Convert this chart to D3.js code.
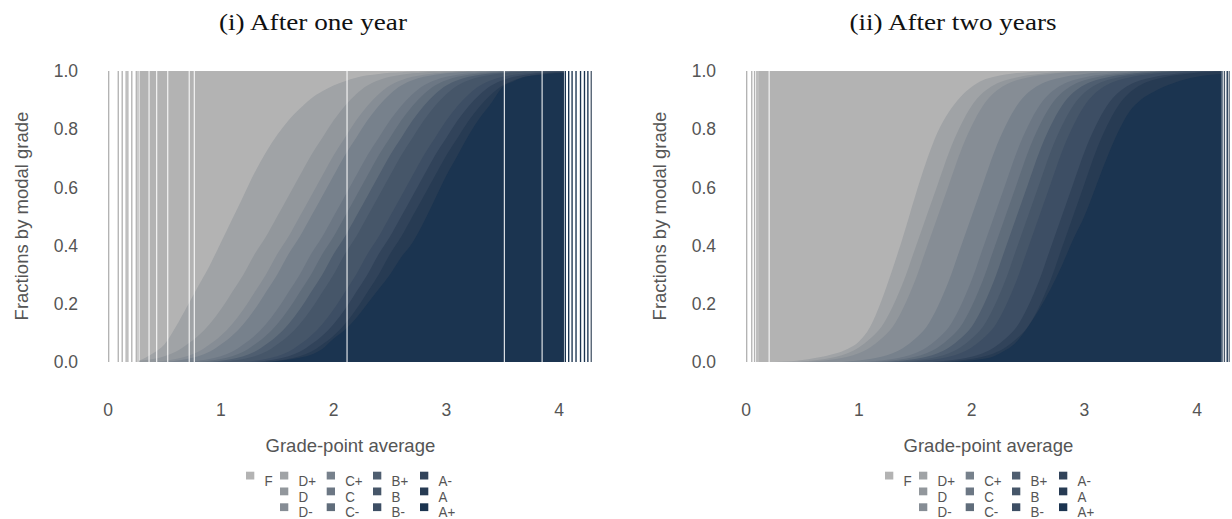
<!DOCTYPE html>
<html><head><meta charset="utf-8">
<script src="https://cdn.jsdelivr.net/npm/d3@7"></script>
<style>body{margin:0;background:#fff}svg{display:block}</style>
</head><body>
<svg id="chart" width="1232" height="519"></svg>
<script>
// ---------- data ----------
const grades = ["F","D+","D","D-","C+","C","C-","B+","B","B-","A-","A","A+"];
const gradeColors = ["#b3b3b3","#a0a3a6","#92979c","#868d95","#77818c","#6c7784","#606d7b","#4f5e70","#465669","#3d4e64","#31435a","#273b53","#1b3450"];
const yTicks = [0, 0.2, 0.4, 0.6, 0.8, 1.0];
const xTicks = [0, 1, 2, 3, 4];
const panelTitles = ["(i) After one year", "(ii) After two years"];
const legendColumns = [["F"], ["D+","D","D-"], ["C+","C","C-"], ["B+","B","B-"], ["A-","A","A+"]];

// Panel (i): GPA values and cumulative share of students whose modal grade is
// better than F, D+, D, ... , A (each row = one boundary between adjacent grades)
const gpaOne = [0.28,0.4,0.5,0.6,0.7,0.8,0.9,1.0,1.1,1.2,1.3,1.4,1.5,1.6,1.7,1.8,1.9,2.0,2.1,2.2,2.3,2.4,2.5,2.6,2.7,2.8,2.9,3.0,3.1,3.2,3.3,3.4,3.5,3.6,3.7,3.8,3.9,4.04];
const cumOne = [
 [0.005,0.03,0.06,0.12,0.19,0.26,0.33,0.41,0.49,0.57,0.65,0.72,0.78,0.83,0.87,0.905,0.93,0.95,0.965,0.977,0.985,0.99,0.994,0.996,0.998,0.999,1,1,1,1,1,1,1,1,1,1,1,1],
 [0.004,0.01,0.02,0.035,0.06,0.09,0.13,0.18,0.24,0.30,0.37,0.43,0.50,0.57,0.64,0.71,0.77,0.83,0.88,0.92,0.95,0.968,0.98,0.987,0.992,0.995,0.997,0.998,0.999,1,1,1,1,1,1,1,1,1],
 [0,0,0.004,0.01,0.02,0.035,0.06,0.09,0.13,0.18,0.24,0.30,0.37,0.43,0.50,0.57,0.64,0.71,0.77,0.83,0.88,0.92,0.95,0.968,0.98,0.987,0.992,0.995,0.997,0.998,0.999,1,1,1,1,1,1,1],
 [0,0,0,0.004,0.01,0.02,0.035,0.06,0.09,0.13,0.18,0.24,0.30,0.37,0.43,0.50,0.57,0.64,0.71,0.77,0.83,0.88,0.92,0.95,0.968,0.98,0.987,0.992,0.995,0.997,0.998,0.999,1,1,1,1,1,1],
 [0,0,0,0,0,0.004,0.01,0.02,0.035,0.06,0.09,0.13,0.18,0.24,0.30,0.37,0.43,0.50,0.57,0.64,0.71,0.77,0.83,0.88,0.92,0.95,0.968,0.98,0.987,0.992,0.995,0.997,0.998,0.999,1,1,1,1],
 [0,0,0,0,0,0,0.004,0.01,0.02,0.035,0.06,0.09,0.13,0.18,0.24,0.30,0.37,0.43,0.50,0.57,0.64,0.71,0.77,0.83,0.88,0.92,0.95,0.968,0.98,0.987,0.992,0.995,0.997,0.998,0.999,1,1,1],
 [0,0,0,0,0,0,0,0.004,0.01,0.02,0.035,0.06,0.09,0.13,0.18,0.24,0.30,0.37,0.43,0.50,0.57,0.64,0.71,0.77,0.83,0.88,0.92,0.95,0.968,0.98,0.987,0.992,0.995,0.997,0.998,0.999,1,1],
 [0,0,0,0,0,0,0,0,0.004,0.01,0.02,0.035,0.06,0.09,0.13,0.18,0.24,0.30,0.37,0.43,0.50,0.57,0.64,0.71,0.77,0.83,0.88,0.92,0.95,0.968,0.98,0.987,0.992,0.995,0.997,0.998,0.999,1],
 [0,0,0,0,0,0,0,0,0,0,0.004,0.01,0.02,0.035,0.06,0.09,0.13,0.18,0.24,0.30,0.37,0.43,0.50,0.57,0.64,0.71,0.77,0.83,0.88,0.92,0.95,0.968,0.98,0.987,0.992,0.995,0.997,0.998],
 [0,0,0,0,0,0,0,0,0,0,0,0.004,0.01,0.02,0.035,0.06,0.09,0.13,0.18,0.24,0.30,0.37,0.43,0.50,0.57,0.64,0.71,0.77,0.83,0.88,0.92,0.95,0.968,0.98,0.987,0.992,0.995,0.997],
 [0,0,0,0,0,0,0,0,0,0,0,0,0.004,0.01,0.02,0.035,0.06,0.09,0.13,0.18,0.24,0.30,0.37,0.43,0.50,0.57,0.64,0.71,0.77,0.83,0.88,0.92,0.95,0.968,0.98,0.987,0.992,0.995],
 [0,0,0,0,0,0,0,0,0,0,0,0,0.003,0.008,0.015,0.025,0.045,0.08,0.11,0.15,0.2,0.25,0.3,0.36,0.41,0.48,0.56,0.64,0.71,0.78,0.84,0.89,0.945,0.965,0.98,0.985,0.99,0.993]
];
const sparseGpaOne = [0.0,0.085,0.12,0.155,0.17,0.205,0.245,0.26,4.05,4.08,4.11,4.145,4.185,4.22,4.25,4.28];
const sparseGradeOne = ["F","F","F","F","F","F","F","F","A+","A+","A+","A+","A+","A+","A+","B+"];
const gapsOne = [0.364,0.432,0.53,0.72,0.765,2.12,3.515,3.85];

// Panel (ii)
const gpaTwo = [0.11,0.2,0.3,0.4,0.5,0.6,0.7,0.8,0.9,1.0,1.1,1.2,1.3,1.4,1.5,1.6,1.7,1.8,1.9,2.0,2.1,2.2,2.3,2.4,2.5,2.6,2.7,2.8,2.9,3.0,3.1,3.2,3.3,3.4,3.5,3.6,3.7,3.8,3.9,4.0,4.1,4.21];
const cumTwo = [
 [0,0,0.001,0.003,0.007,0.013,0.02,0.03,0.045,0.07,0.12,0.21,0.32,0.44,0.57,0.69,0.79,0.86,0.91,0.945,0.968,0.98,0.988,0.993,0.996,0.998,0.999,1,1,1,1,1,1,1,1,1,1,1,1,1,1,1],
 [0,0,0,0,0.002,0.005,0.01,0.018,0.03,0.05,0.08,0.12,0.19,0.28,0.39,0.50,0.61,0.72,0.81,0.88,0.925,0.952,0.968,0.978,0.985,0.99,0.994,0.996,0.998,0.999,1,1,1,1,1,1,1,1,1,1,1,1],
 [0,0,0,0,0,0.002,0.005,0.01,0.018,0.03,0.05,0.08,0.12,0.19,0.28,0.39,0.50,0.61,0.72,0.81,0.88,0.925,0.952,0.968,0.978,0.985,0.99,0.994,0.996,0.998,0.999,1,1,1,1,1,1,1,1,1,1,1],
 [0,0,0,0,0,0,0,0,0.002,0.005,0.01,0.018,0.03,0.05,0.08,0.12,0.19,0.28,0.39,0.50,0.61,0.72,0.81,0.88,0.925,0.952,0.968,0.978,0.985,0.99,0.994,0.996,0.998,0.999,1,1,1,1,1,1,1,1],
 [0,0,0,0,0,0,0,0,0,0,0.002,0.005,0.01,0.018,0.03,0.05,0.08,0.12,0.19,0.28,0.39,0.50,0.61,0.72,0.81,0.88,0.925,0.952,0.968,0.978,0.985,0.99,0.994,0.996,0.998,0.999,1,1,1,1,1,1],
 [0,0,0,0,0,0,0,0,0,0,0,0.002,0.005,0.01,0.018,0.03,0.05,0.08,0.12,0.19,0.28,0.39,0.50,0.61,0.72,0.81,0.88,0.925,0.952,0.968,0.978,0.985,0.99,0.994,0.996,0.998,0.999,1,1,1,1,1],
 [0,0,0,0,0,0,0,0,0,0,0,0,0.002,0.005,0.01,0.018,0.03,0.05,0.08,0.12,0.19,0.28,0.39,0.50,0.61,0.72,0.81,0.88,0.925,0.952,0.968,0.978,0.985,0.99,0.994,0.996,0.998,0.999,1,1,1,1],
 [0,0,0,0,0,0,0,0,0,0,0,0,0,0.002,0.005,0.01,0.018,0.03,0.05,0.08,0.12,0.19,0.28,0.39,0.50,0.61,0.72,0.81,0.88,0.925,0.952,0.968,0.978,0.985,0.99,0.994,0.996,0.998,0.999,1,1,1],
 [0,0,0,0,0,0,0,0,0,0,0,0,0,0,0.002,0.005,0.01,0.018,0.03,0.05,0.08,0.12,0.19,0.28,0.39,0.50,0.61,0.72,0.81,0.88,0.925,0.952,0.968,0.978,0.985,0.99,0.994,0.996,0.998,0.999,1,1],
 [0,0,0,0,0,0,0,0,0,0,0,0,0,0,0,0,0.002,0.005,0.01,0.018,0.03,0.05,0.08,0.12,0.19,0.28,0.39,0.50,0.61,0.72,0.81,0.88,0.925,0.952,0.968,0.978,0.985,0.99,0.994,0.996,0.998,0.999],
 [0,0,0,0,0,0,0,0,0,0,0,0,0,0,0,0,0,0.002,0.005,0.01,0.018,0.03,0.05,0.08,0.12,0.19,0.28,0.39,0.50,0.61,0.72,0.81,0.88,0.925,0.952,0.968,0.978,0.985,0.99,0.994,0.996,0.998],
 [0,0,0,0,0,0,0,0,0,0,0,0,0,0,0,0,0,0,0.002,0.005,0.01,0.02,0.04,0.07,0.12,0.18,0.25,0.33,0.42,0.5,0.6,0.7,0.79,0.86,0.9,0.925,0.945,0.96,0.972,0.98,0.986,0.99]
];
const sparseGpaTwo = [0.0,0.045,0.07,0.09,0.1,4.215,4.237,4.262,4.28];
const sparseGradeTwo = ["F","F","F","F","F","A+","B","A+","C"];
const gapsTwo = [0.205];

// ---------- drawing ----------
const svg = d3.select("#chart");
const FONT = "'Liberation Sans', Arial, sans-serif";
const SERIF = "'Liberation Serif', 'Times New Roman', serif";
const TXT = "#555555";
const colorOf = d3.scaleOrdinal().domain(grades).range(gradeColors);

const panels = [
  {x0: 108, title: panelTitles[0], titleW: 188, gpa: gpaOne, cum: cumOne, sg: sparseGpaOne, sgr: sparseGradeOne, gaps: gapsOne, titleX: 313, legX: 246, ylabX: 22, ytickX: 78},
  {x0: 746, title: panelTitles[1], titleW: 207, gpa: gpaTwo, cum: cumTwo, sg: sparseGpaTwo, sgr: sparseGradeTwo, gaps: gapsTwo, titleX: 953, legX: 885, ylabX: 660, ytickX: 716}
];

const y = d3.scaleLinear().domain([0, 1]).range([362, 71]);

panels.forEach(p => {
  const x = d3.scaleLinear().domain([0, 4.3]).range([p.x0, p.x0 + 4.3 * 112.75]);
  const g = svg.append("g");
  const gpa = p.gpa;
  const first = gpa[0], last = gpa[gpa.length - 1];

  // top grade (F) fills the continuous range
  g.append("rect")
    .attr("x", x(first)).attr("y", y(1))
    .attr("width", x(last) - x(first)).attr("height", y(0) - y(1))
    .attr("fill", colorOf("F"));

  // boundaries painted in order; region below boundary k has the colour of grade k+1
  p.cum.forEach((row, k) => {
    const pts = gpa.map((v, i) => [v, row[i]]);
    const area = d3.area()
      .x(d => x(d[0])).y0(y(0)).y1(d => y(d[1]))
      .curve(d3.curveMonotoneX);
    g.append("path").attr("d", area(pts)).attr("fill", colorOf(grades[k + 1]));
  });

  // isolated single bars outside the continuous range
  const bw = 0.012;
  g.selectAll("rect.sparse").data(p.sg.map((v, i) => ({gpa: v, grade: p.sgr[i]})))
    .enter().append("rect").attr("class", "sparse")
    .attr("x", d => x(d.gpa)).attr("y", y(1))
    .attr("width", x(bw) - x(0)).attr("height", y(0) - y(1))
    .attr("fill", d => colorOf(d.grade));

  // GPA values with no students
  g.selectAll("rect.gap").data(p.gaps).enter().append("rect").attr("class", "gap")
    .attr("x", d => x(d) - 0.5).attr("y", y(1) - 1)
    .attr("width", x(0.009) - x(0)).attr("height", y(0) - y(1) + 2)
    .attr("fill", "#ffffff");

  // y tick labels
  g.selectAll("text.yt").data(yTicks).enter().append("text")
    .attr("x", p.ytickX).attr("y", d => y(d)).attr("dy", "0.35em")
    .attr("text-anchor", "end").attr("font-family", FONT).attr("font-size", 17.5).attr("fill", TXT)
    .text(d => d3.format(".1f")(d));

  // x tick labels
  g.selectAll("text.xt").data(xTicks).enter().append("text")
    .attr("x", d => x(d)).attr("y", 410).attr("dy", "0.35em")
    .attr("text-anchor", "middle").attr("font-family", FONT).attr("font-size", 17.5).attr("fill", TXT)
    .text(d => d);

  // axis titles
  g.append("text").attr("transform", `translate(${p.ylabX},216) rotate(-90)`)
    .attr("text-anchor", "middle").attr("dy", "0.35em").attr("font-family", FONT).attr("font-size", 18.5).attr("fill", TXT)
    .text("Fractions by modal grade");
  g.append("text").attr("x", x(2.15)).attr("y", 446).attr("dy", "0.35em")
    .attr("text-anchor", "middle").attr("font-family", FONT).attr("font-size", 18.5).attr("fill", TXT)
    .text("Grade-point average");

  // panel title
  g.append("text").attr("x", p.titleX).attr("y", 30)
    .attr("text-anchor", "middle").attr("font-family", SERIF)
    .attr("font-size", 23).attr("fill", "#111")
    .attr("textLength", p.titleW).attr("lengthAdjust", "spacingAndGlyphs")
    .text(p.title);

  // legend
  const colX = [0, 34, 80.7, 127, 174];
  legendColumns.forEach((col, ci) => {
    col.forEach((gr, ri) => {
      const lx = p.legX + colX[ci], ly = 471.7 + ri * 15.8;
      g.append("rect").attr("x", lx).attr("y", ly).attr("width", 8.3).attr("height", 7.8)
        .attr("fill", colorOf(gr));
      const t = g.append("text").attr("x", lx + 18.5).attr("y", ly + 14).attr("font-family", FONT)
        .attr("font-size", 15.5).attr("fill", TXT).text(gr);
      const w = t.node().getComputedTextLength();
      t.attr("textLength", w * 0.86).attr("lengthAdjust", "spacingAndGlyphs");
    });
  });
});
</script>
</body></html>
